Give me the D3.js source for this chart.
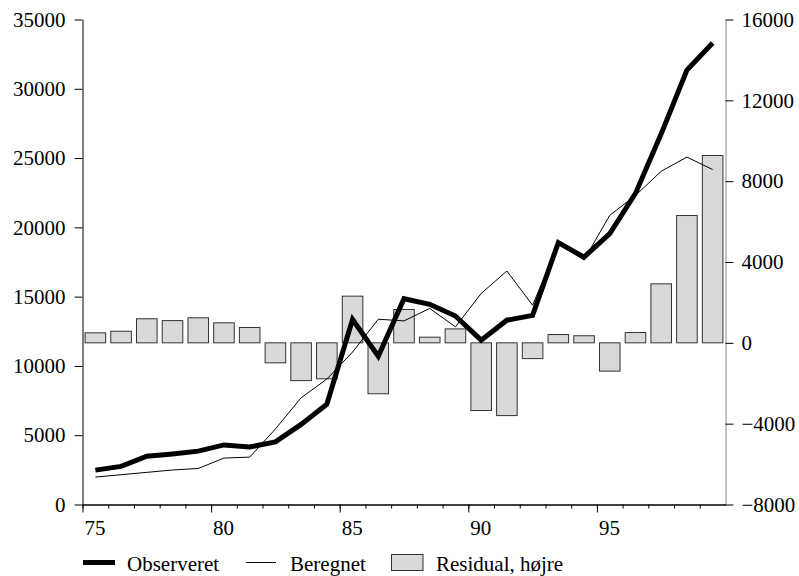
<!DOCTYPE html>
<html lang="da">
<head>
  <meta charset="utf-8">
  <title>Observeret og beregnet</title>
  <script src="https://d3js.org/d3.v7.min.js"></script>
  <style>
    body { margin: 0; background: #fff; }
    svg text { font-family: "Liberation Serif", "Times New Roman", serif; font-size: 21px; fill: #000; }
  </style>
</head>
<body>
<div id="chart"></div>
<script>
// data
var years = [1975, 1976, 1977, 1978, 1979, 1980, 1981, 1982, 1983, 1984, 1985, 1986,
             1987, 1988, 1989, 1990, 1991, 1992, 1993, 1994, 1995, 1996, 1997, 1998, 1999];
var observeret = [2480, 2750, 3480, 3650, 3850, 4300, 4150, 4520, 5780, 7240, 13350, 10700,
                  14850, 14450, 13600, 11860, 13300, 13650, 18900, 17850, 19550, 22450, 26750, 31350, 33300];
var beregnet = [1980, 2150, 2320, 2490, 2600, 3350, 3420, 5450, 7700, 9050, 11000, 13370,
                13250, 14150, 12820, 15230, 16850, 14380, 18800, 17650, 20870, 22300, 24050, 25070, 24170];
var residual = [495, 575, 1190, 1100, 1240, 990, 760, -990, -1870, -1780, 2310, -2520,
                1650, 280, 690, -3350, -3600, -780, 410, 350, -1400, 510, 2920, 6300, 9270];
var leftTicks = [0, 5000, 10000, 15000, 20000, 25000, 30000, 35000];
var rightTicks = [-8000, -4000, 0, 4000, 8000, 12000, 16000];
var xLabels = ["75", "80", "85", "90", "95"];
var legendNames = ["Observeret", "Beregnet", "Residual, højre"];

var W = 799, H = 576;
// note: "top" is reserved on window, so use plot* names
var plotLeft = 82.5, plotRight = 725.5, plotTop = 19.5, plotBottom = 504.5;

var svg = d3.select("#chart").append("svg")
  .attr("width", W)
  .attr("height", H);

var x = d3.scaleLinear().domain([75, 100]).range([plotLeft, plotRight]);
var yL = d3.scaleLinear().domain([0, 35000]).range([plotBottom, plotTop]);
var yR = d3.scaleLinear().domain([-8000, 16000]).range([plotBottom, plotTop]);

// year -> two digit position on the x scale
function yx(yr) { return yr - 1900; }

// residual bars (right axis)
svg.append("g").selectAll("rect")
  .data(years)
  .enter().append("rect")
    .attr("x", function(d) { return x(yx(d) + 0.1); })
    .attr("width", function(d) { return x(yx(d) + 0.9) - x(yx(d) + 0.1); })
    .attr("y", function(d, i) { return Math.min(yR(residual[i]), yR(0)); })
    .attr("height", function(d, i) { return Math.abs(yR(residual[i]) - yR(0)); })
    .attr("fill", "#d9d9d9")
    .attr("stroke", "#333")
    .attr("stroke-width", 1);

var line = function(vals) {
  return d3.line()
    .x(function(d) { return x(yx(d) + 0.5); })
    .y(function(d, i) { return yL(vals[i]); })(years);
};

svg.append("path")
  .attr("d", line(beregnet))
  .attr("fill", "none")
  .attr("stroke", "#000")
  .attr("stroke-width", 1);

svg.append("path")
  .attr("d", line(observeret))
  .attr("fill", "none")
  .attr("stroke", "#000")
  .attr("stroke-width", 5);

var fmt = d3.format("d");

// left axis
svg.append("g")
  .attr("transform", "translate(" + plotLeft + ",0)")
  .call(d3.axisLeft(yL).tickValues(leftTicks).tickSize(8).tickSizeOuter(0).tickPadding(9).tickFormat(fmt));

// right axis (grey spine)
var gr = svg.append("g")
  .attr("transform", "translate(" + plotRight + ",0)")
  .call(d3.axisRight(yR).tickValues(rightTicks).tickSize(8).tickSizeOuter(0).tickPadding(8).tickFormat(fmt));
gr.select(".domain").attr("stroke", "#888");

// bottom axis: yearly minor ticks, majors every 5 years
svg.append("g")
  .attr("transform", "translate(0," + plotBottom + ")")
  .call(d3.axisBottom(x).tickValues(d3.range(75, 100)).tickSize(4).tickSizeOuter(0).tickFormat(""));
var gb = svg.append("g")
  .attr("transform", "translate(0," + plotBottom + ")")
  .call(d3.axisBottom(x).tickValues([75, 80, 85, 90, 95]).tickSize(8).tickSizeOuter(0)
    .tickFormat(function(d, i) { return xLabels[i]; }));
gb.selectAll("text")
  .attr("text-anchor", "start")
  .attr("x", 1.5)
  .attr("y", 30)
  .attr("dy", 0);

svg.selectAll(".tick text").style("font-size", "21px").style("font-family", "'Liberation Serif', serif");

// legend
var lg = svg.append("g");
lg.append("line").attr("x1", 83).attr("x2", 115).attr("y1", 562.5).attr("y2", 562.5)
  .attr("stroke", "#000").attr("stroke-width", 5);
lg.append("text").attr("x", 127).attr("y", 571).text(legendNames[0]);
lg.append("line").attr("x1", 246).attr("x2", 276).attr("y1", 562.5).attr("y2", 562.5)
  .attr("stroke", "#000").attr("stroke-width", 1);
lg.append("text").attr("x", 290).attr("y", 571).text(legendNames[1]);
lg.append("rect").attr("x", 391.5).attr("y", 554.5).attr("width", 31.5).attr("height", 16)
  .attr("fill", "#d9d9d9").attr("stroke", "#333").attr("stroke-width", 1);
lg.append("text").attr("x", 436).attr("y", 571).text(legendNames[2]);
</script>
</body>
</html>
